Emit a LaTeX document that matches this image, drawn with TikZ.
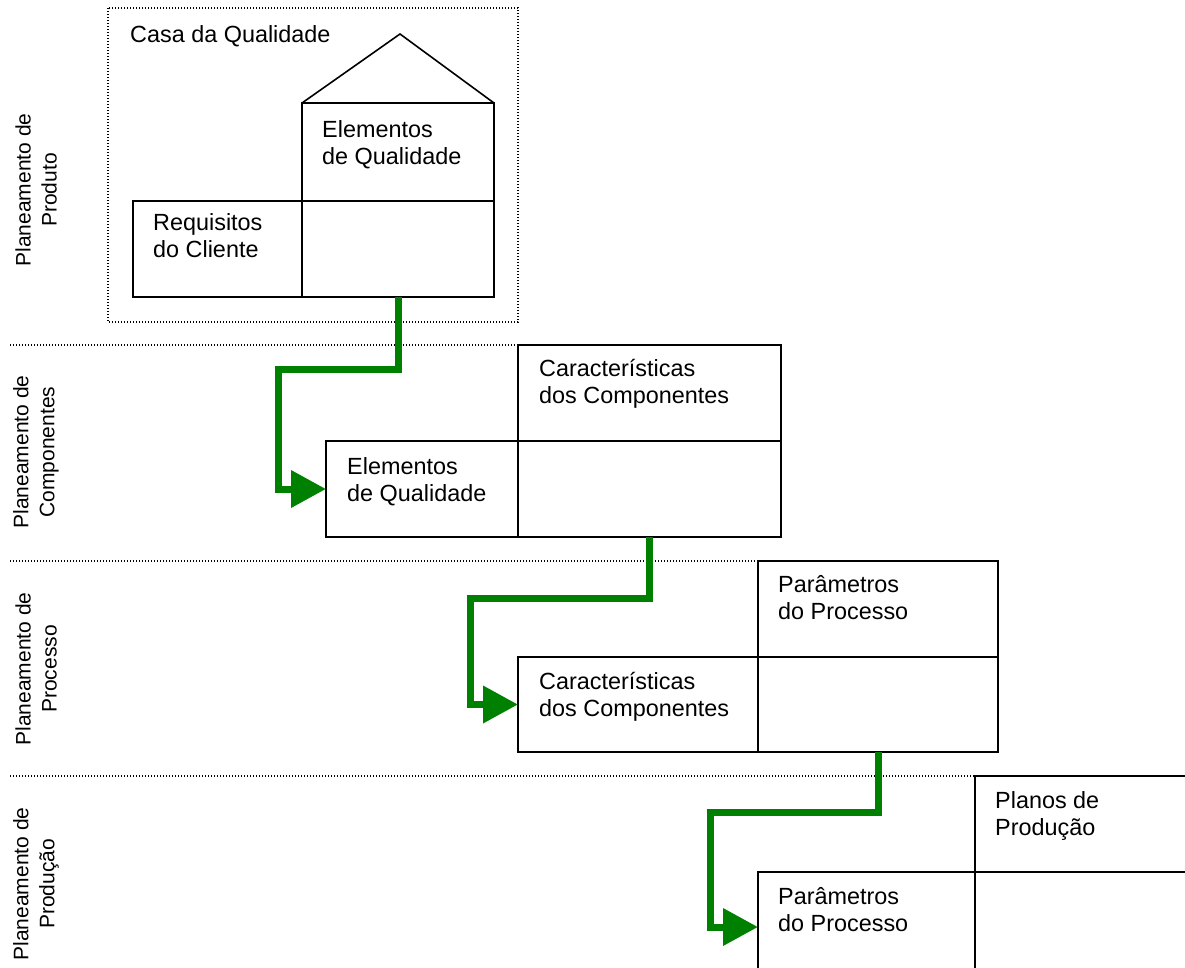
\documentclass[tikz,border=0pt]{standalone}
\usepackage{fontspec}
\setmainfont{Liberation Sans}
\usetikzlibrary{arrows.meta,calc}
\definecolor{flowgreen}{RGB}{0,128,0}
\begin{document}
\begin{tikzpicture}[x=1pt,y=-1pt,
  cell/.style={draw,line width=1.6pt,inner sep=0pt,outer sep=0pt,anchor=north west},
  txt/.style={anchor=north west,inner sep=0pt,align=left,font=\fontsize{23.4}{27}\selectfont},
  phase/.style={rotate=90,align=center,inner sep=0pt,font=\fontsize{21}{26}\selectfont},
  sep/.style={line width=1.1pt,dash pattern=on 1.1pt off 1.9pt},
  flow/.style={draw=flowgreen,line width=7pt,line join=miter,
    -{Triangle[length=35pt,width=36pt,fill=flowgreen]}}]
\useasboundingbox (0,0) rectangle (1185,967);
\clip (0,0) rectangle (1185,967);

% phase labels
\node[phase] (ph1) at (36,190) {Planeamento de\\Produto};
\node[phase] (ph2) at (36,452) {Planeamento de\\Componentes};
\node[phase] (ph3) at (36,669) {Planeamento de\\Processo};
\node[phase] (ph4) at (36,884) {Planeamento de\\Produção};

% house of quality
\draw[sep] (108,8) rectangle (518,322);
\node[txt] (casa) at (130,25) {Casa da Qualidade};
\node[cell,minimum width=192pt,minimum height=98pt] (e1) at (302,103) {};
\node[cell,minimum width=169pt,minimum height=96pt] (r1) at (133,201) {};
\node[cell,minimum width=192pt,minimum height=96pt] (m1) at (302,201) {};
\draw[line width=1.6pt,line join=miter] (e1.north west) -- (400,34) -- (e1.north east);
\node[txt] at (322,120) {Elementos\\de Qualidade};
\node[txt] at (153,213) {Requisitos\\do Cliente};

% component planning
\node[cell,minimum width=263pt,minimum height=96pt] (c2) at (518,345) {};
\node[cell,minimum width=192pt,minimum height=96pt] (e2) at (326,441) {};
\node[cell,minimum width=263pt,minimum height=96pt] (m2) at (518,441) {};
\node[txt] at (539,359) {Características\\dos Componentes};
\node[txt] at (347,457) {Elementos\\de Qualidade};

% process planning
\node[cell,minimum width=240pt,minimum height=96pt] (p3) at (758,561) {};
\node[cell,minimum width=240pt,minimum height=95pt] (c3) at (518,657) {};
\node[cell,minimum width=240pt,minimum height=95pt] (m3) at (758,657) {};
\node[txt] at (778,575) {Parâmetros\\do Processo};
\node[txt] at (539,672) {Características\\dos Componentes};

% production planning
\node[cell,minimum width=240pt,minimum height=96pt] (pl4) at (975,776) {};
\node[cell,minimum width=217pt,minimum height=110pt] (p4) at (758,872) {};
\node[cell,minimum width=240pt,minimum height=110pt] (m4) at (975,872) {};
\node[txt] at (995,791) {Planos de\\Produção};
\node[txt] at (778,887) {Parâmetros\\do Processo};

% phase separators
\draw[sep] (10,345) -- (c2.north west);
\draw[sep] (10,561) -- (p3.north west);
\draw[sep] (10,776) -- (pl4.north west);

% flow between phases
\draw[flow] (m1.south) -- ++(0,72) -| ([xshift=-48pt]e2.west) -- (e2.west);
\draw[flow] (m2.south) -- ++(0,61) -| ([xshift=-48pt]c3.west) -- (c3.west);
\draw[flow] (m3.south) -- ++(0,60) -| ([xshift=-48pt]p4.west) -- (p4.west);
\end{tikzpicture}
\end{document}
